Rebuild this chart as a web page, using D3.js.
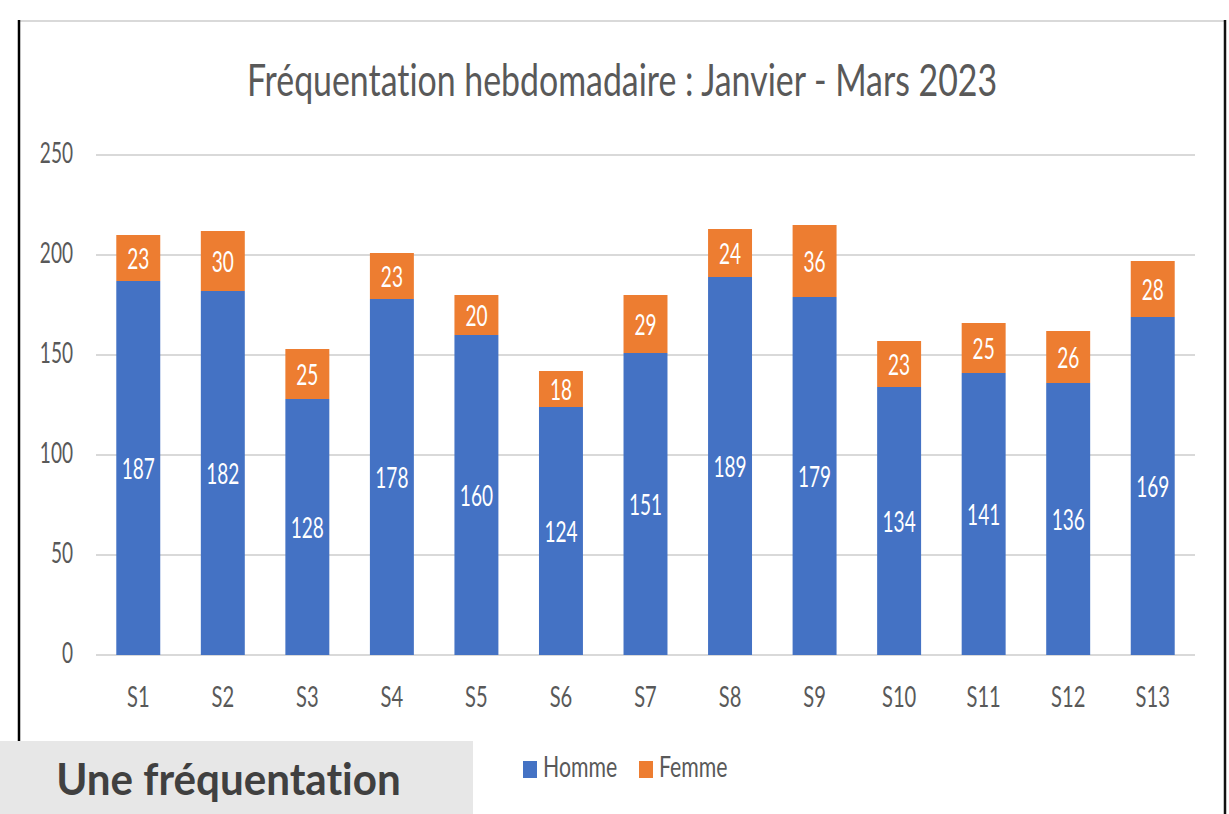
<!DOCTYPE html>
<html><head><meta charset="utf-8">
<script src="https://cdn.jsdelivr.net/npm/d3@7"></script>
<style>html,body{margin:0;padding:0;background:#fff;}svg{display:block;}text{font-variant-ligatures:none;}</style>
</head><body>
<svg id="c" width="1229" height="814"></svg>
<script>
const categories = ["S1","S2","S3","S4","S5","S6","S7","S8","S9","S10","S11","S12","S13"];
const homme = [187,182,128,178,160,124,151,189,179,134,141,136,169];
const femme = [23,30,25,23,20,18,29,24,36,23,25,26,28];
const yTicks = [0,50,100,150,200,250];
const seriesNames = ["Homme","Femme"];
const titleText = "Fréquentation hebdomadaire : Janvier - Mars 2023";
const boxText = "Une fréquentation";

const colors = {Homme:"#4472C4", Femme:"#ED7D31"};
const FONT = "Lato, 'Open Sans', sans-serif";
const SX = 0.68;
const svg = d3.select("#c");

function txt(g, x, y, s, opts){
  const t = g.append("text")
    .attr("transform", `translate(${x},${y}) scale(${opts.sx||SX},1)`)
    .attr("text-anchor", opts.anchor||"middle")
    .attr("font-family", FONT)
    .attr("font-size", opts.size||28)
    .attr("font-weight", opts.weight||"normal")
    .attr("fill", opts.fill||"#595959")
    .text(s);
  return t;
}

// frame
svg.append("line").attr("x1",19).attr("x2",1225).attr("y1",21).attr("y2",21).attr("stroke","#d9d9d9").attr("stroke-width",2);
svg.append("line").attr("x1",19).attr("x2",19).attr("y1",20).attr("y2",741).attr("stroke","#000").attr("stroke-width",2.5);
svg.append("line").attr("x1",1225).attr("x2",1225).attr("y1",20).attr("y2",814).attr("stroke","#111").attr("stroke-width",2.5);

const x = d3.scaleBand().domain(categories).range([96,1195]).paddingInner(0.48).paddingOuter(0.24);
const y = d3.scaleLinear().domain([0,250]).range([655,155]);

// grid
svg.append("g").selectAll("line").data(yTicks).join("line")
  .attr("x1",96).attr("x2",1195).attr("y1",d=>y(d)).attr("y2",d=>y(d))
  .attr("stroke","#d9d9d9").attr("stroke-width",2);

// y labels
const gy = svg.append("g");
yTicks.forEach(v=>txt(gy, 73, y(v)+8, String(v), {anchor:"end"}));

// bars
const data = categories.map((c,i)=>({c, Homme:homme[i], Femme:femme[i]}));
const stacked = d3.stack().keys(seriesNames)(data);
const gb = svg.append("g");
stacked.forEach(layer=>{
  gb.append("g").selectAll("rect").data(layer).join("rect")
    .attr("x",d=>x(d.data.c)).attr("width",x.bandwidth())
    .attr("y",d=>y(d[1])).attr("height",d=>y(d[0])-y(d[1]))
    .attr("fill",colors[layer.key]);
});
const gl = svg.append("g");
stacked.forEach(layer=>{
  layer.forEach(d=>{
    const cy = (y(d[0])+y(d[1]))/2;
    txt(gl, x(d.data.c)+x.bandwidth()/2, cy+10.5, String(d[1]-d[0]), {fill:"#fff"});
  });
});

// x labels
const gx = svg.append("g");
categories.forEach(c=>txt(gx, x(c)+x.bandwidth()/2, 706.5, c, {sx:0.72}));

// title
txt(svg, 622, 96, titleText, {size:44, sx:0.77});

// legend
const lg = svg.append("g");
const legX = [523, 639];
seriesNames.forEach((n,i)=>{
  lg.append("rect").attr("x",legX[i]).attr("y",761).attr("width",14).attr("height",17).attr("fill",colors[n]);
  txt(lg, legX[i]+20, 777, n, {anchor:"start", sx:0.76});
});

// gray box
svg.append("rect").attr("x",0).attr("y",741).attr("width",473).attr("height",73).attr("fill","#e7e7e7");
txt(svg, 228.5, 795, boxText, {size:43, weight:"bold", fill:"#404040", sx:0.98});
</script>
</body></html>
